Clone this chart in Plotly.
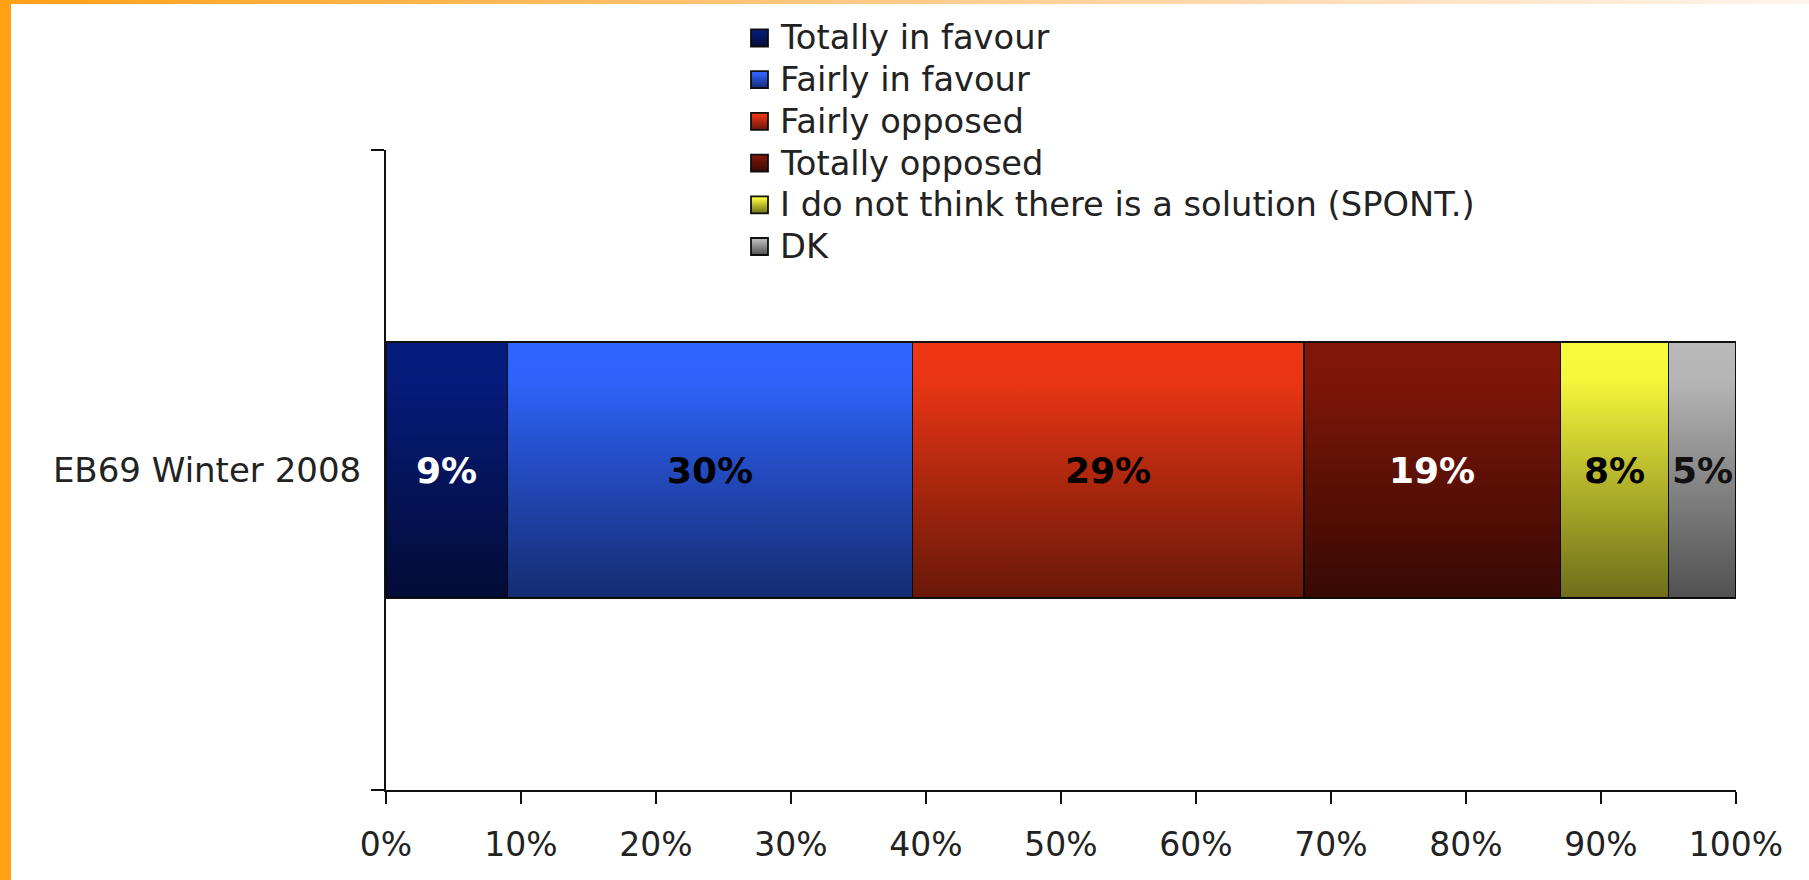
import base64
import numpy as np
import plotly.graph_objects as go

# Survey wave and answer breakdown (percent of respondents)
category = ["EB69 Winter 2008"]
answers = [
    "Totally in favour",
    "Fairly in favour",
    "Fairly opposed",
    "Totally opposed",
    "I do not think there is a solution (SPONT.)",
    "DK",
]
shares = [9, 30, 29, 19, 8, 5]

# Base (top-of-bar) colours, darkened towards the bottom by a gradient overlay
colors = ["#061C7D", "#2F64FF", "#EE3614", "#801608", "#FAFA3C", "#B9B9B9"]
label_colors = ["white", "black", "black", "white", "black", "#111111"]

W, H = 1809, 880
M_L, M_R, M_T, M_B = 386, 73, 150, 90
PLOT_W = W - M_L - M_R
PLOT_H = H - M_T - M_B
BAR_WIDTH = 0.4
FONT = "DejaVu Sans"

# Legend block geometry, in pixels from the top-left corner of the page
LEG_SWATCH_X = 751
LEG_SWATCH_SIZE = 17
LEG_TEXT_X = 778
LEG_FIRST_Y = 38
LEG_ROW_STEP = 41.7


def px_x(x):
    return (x - M_L) / PLOT_W


def px_y(y):
    return 1 - (y - M_T) / PLOT_H


def svg_uri(svg):
    return "data:image/svg+xml;base64," + base64.b64encode(svg.encode()).decode()


# Vertical shading: transparent at the top, darker towards the bottom
shade_svg = (
    "<svg xmlns='http://www.w3.org/2000/svg' width='10' height='100' "
    "viewBox='0 0 10 100' preserveAspectRatio='none'>"
    "<defs><linearGradient id='g' x1='0' y1='0' x2='0' y2='1'>"
    "<stop offset='0' stop-color='#000' stop-opacity='0'/>"
    "<stop offset='0.15' stop-color='#000' stop-opacity='0.02'/>"
    "<stop offset='0.5' stop-color='#000' stop-opacity='0.25'/>"
    "<stop offset='0.85' stop-color='#000' stop-opacity='0.47'/>"
    "<stop offset='1' stop-color='#000' stop-opacity='0.56'/>"
    "</linearGradient></defs>"
    "<rect width='10' height='100' fill='url(#g)'/></svg>"
)
SHADE = svg_uri(shade_svg)

# Page frame: orange strip on the left, fading orange line along the top
frame_svg = (
    f"<svg xmlns='http://www.w3.org/2000/svg' width='{W}' height='{H}' "
    f"viewBox='0 0 {W} {H}' preserveAspectRatio='none'>"
    "<defs><linearGradient id='t' x1='0' y1='0' x2='1' y2='0'>"
    "<stop offset='0' stop-color='#FFA015'/>"
    "<stop offset='0.45' stop-color='#FFC680'/>"
    "<stop offset='1' stop-color='#FFF4EC'/>"
    "</linearGradient></defs>"
    f"<rect x='0' y='0' width='{W}' height='4' fill='url(#t)'/>"
    f"<rect x='0' y='0' width='11' height='{H}' fill='#FFA015'/></svg>"
)

fig = go.Figure()
for name, val, col in zip(answers, shares, colors):
    fig.add_trace(
        go.Bar(
            name=name,
            y=category,
            x=[val],
            orientation="h",
            width=BAR_WIDTH,
            marker=dict(color=col, line=dict(color="#111111", width=1.8)),
            hoverinfo="skip",
            showlegend=False,
        )
    )

# Value labels centred in each segment
starts = np.concatenate([[0], np.cumsum(shares)[:-1]])
for s, val, lc in zip(starts, shares, label_colors):
    fig.add_annotation(
        x=s + val / 2,
        y=category[0],
        text=f"{val}%",
        showarrow=False,
        font=dict(family=FONT, size=36, color=lc, weight="bold"),
    )

total = float(np.sum(shares))
fig.add_layout_image(
    source=SHADE,
    xref="x", yref="paper",
    x=0, y=0.5 + BAR_WIDTH / 2,
    sizex=total, sizey=BAR_WIDTH,
    xanchor="left", yanchor="top",
    sizing="stretch", layer="above",
)

# Legend: shaded square swatch plus label for each answer
for i, (name, col) in enumerate(zip(answers, colors)):
    cy = LEG_FIRST_Y + i * LEG_ROW_STEP
    half = LEG_SWATCH_SIZE / 2
    fig.add_shape(
        type="rect", xref="paper", yref="paper",
        x0=px_x(LEG_SWATCH_X), x1=px_x(LEG_SWATCH_X + LEG_SWATCH_SIZE),
        y0=px_y(cy + half), y1=px_y(cy - half),
        fillcolor=col, line=dict(color="#111111", width=1.8), layer="below",
    )
    fig.add_layout_image(
        source=SHADE, xref="paper", yref="paper",
        x=px_x(LEG_SWATCH_X), y=px_y(cy - half),
        sizex=LEG_SWATCH_SIZE / PLOT_W, sizey=LEG_SWATCH_SIZE / PLOT_H,
        xanchor="left", yanchor="top", sizing="stretch", layer="above",
    )
    fig.add_annotation(
        xref="paper", yref="paper",
        x=px_x(LEG_TEXT_X), y=px_y(cy),
        xanchor="left", yanchor="middle",
        text=name, showarrow=False,
        font=dict(family=FONT, size=33.7, color="#222222"),
    )

fig.add_layout_image(
    source=svg_uri(frame_svg),
    xref="paper", yref="paper",
    x=-M_L / PLOT_W, y=1 + M_T / PLOT_H,
    sizex=W / PLOT_W, sizey=H / PLOT_H,
    xanchor="left", yanchor="top",
    sizing="stretch", layer="below",
)

fig.update_layout(
    width=W,
    height=H,
    barmode="stack",
    margin=dict(l=M_L, r=M_R, t=M_T, b=M_B),
    paper_bgcolor="white",
    plot_bgcolor="white",
    font=dict(family=FONT, size=33, color="#222222"),
    showlegend=False,
    xaxis=dict(
        range=[0, 100],
        dtick=10,
        ticksuffix="%",
        ticks="outside",
        ticklen=12,
        tickwidth=2,
        tickcolor="#111111",
        ticklabelstandoff=12,
        tickfont=dict(size=33),
        showline=True,
        linecolor="#111111",
        linewidth=2,
        showgrid=False,
        zeroline=False,
        fixedrange=True,
    ),
    yaxis=dict(
        type="category",
        range=[-0.5, 0.5],
        tickson="boundaries",
        ticks="outside",
        ticklen=13,
        tickwidth=2,
        tickcolor="#111111",
        ticklabelstandoff=16,
        tickfont=dict(size=34),
        showline=True,
        linecolor="#111111",
        linewidth=2,
        showgrid=False,
        fixedrange=True,
    ),
)

fig.write_html("out.html")
